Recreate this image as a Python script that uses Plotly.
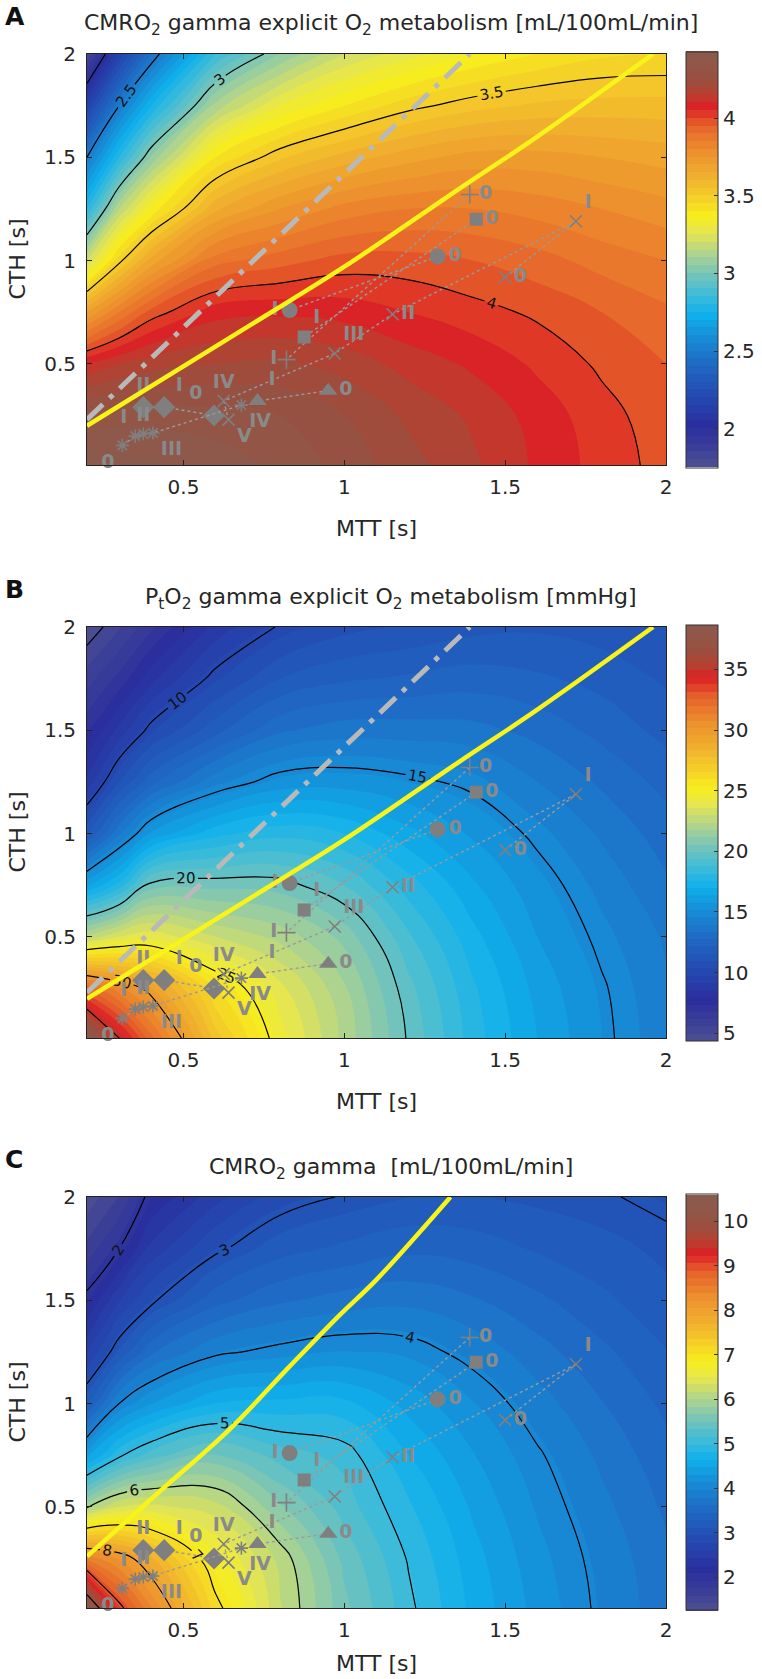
import plotly.graph_objects as go

W, H = 762, 1679

# ---------------- data ----------------
MTT = [0.2, 0.3, 0.4, 0.6, 0.8, 1.0, 1.2, 1.4, 1.6, 1.8, 2.0]
CTH = [0.01, 0.25, 0.5, 0.75, 1.0, 1.25, 1.5, 1.75, 2.0]

# one list per MTT value, CTH from bottom (0.01) to top (2.0)
CMRO2_EXPLICIT = [
    [4.43, 4.32, 4.10, 3.70, 3.20, 2.80, 2.50, 2.15, 1.80],
    [4.42, 4.33, 4.15, 3.85, 3.48, 3.15, 2.80, 2.50, 2.15],
    [4.41, 4.33, 4.18, 3.97, 3.67, 3.36, 3.06, 2.75, 2.45],
    [4.38, 4.32, 4.20, 4.08, 3.88, 3.64, 3.40, 3.12, 2.85],
    [4.34, 4.30, 4.21, 4.09, 3.93, 3.75, 3.54, 3.30, 3.05],
    [4.28, 4.25, 4.18, 4.08, 3.97, 3.82, 3.62, 3.40, 3.20],
    [4.22, 4.19, 4.13, 4.05, 3.97, 3.85, 3.68, 3.48, 3.28],
    [4.16, 4.14, 4.09, 4.02, 3.95, 3.85, 3.72, 3.53, 3.35],
    [4.09, 4.08, 4.04, 3.99, 3.92, 3.83, 3.72, 3.56, 3.40],
    [4.03, 4.02, 3.99, 3.95, 3.88, 3.80, 3.70, 3.57, 3.44],
    [3.98, 3.97, 3.95, 3.91, 3.85, 3.77, 3.68, 3.57, 3.45],
]
PTO2_EXPLICIT = [
    [38.5, 32.5, 22.5, 16.3, 11.5, 8.8, 7.3, 5.9, 4.5],
    [35.0, 31.0, 23.6, 17.8, 13.9, 11.0, 8.8, 7.0, 5.5],
    [32.2, 29.6, 24.0, 20.3, 15.9, 12.6, 10.3, 8.4, 6.7],
    [27.5, 26.0, 23.0, 20.4, 17.4, 14.4, 12.0, 10.3, 8.8],
    [24.5, 23.8, 22.2, 20.3, 18.0, 15.4, 13.3, 11.6, 10.1],
    [22.2, 21.9, 21.0, 19.4, 17.6, 15.5, 13.7, 12.1, 10.8],
    [19.9, 19.6, 18.9, 17.9, 16.6, 15.2, 13.7, 12.3, 11.1],
    [17.9, 17.7, 17.2, 16.5, 15.7, 14.8, 13.6, 12.5, 11.4],
    [16.4, 16.2, 15.8, 15.4, 14.8, 14.0, 13.2, 12.3, 11.5],
    [15.2, 15.1, 14.8, 14.4, 13.9, 13.3, 12.6, 12.0, 11.3],
    [14.2, 14.1, 13.9, 13.5, 13.1, 12.6, 12.0, 11.5, 11.0],
]
CMRO2_GAMMA = [
    [10.55, 8.5, 5.95, 4.4, 3.25, 2.6, 2.08, 1.65, 1.3],
    [9.1, 8.2, 6.35, 4.95, 4.0, 3.15, 2.6, 2.0, 1.6],
    [8.4, 7.75, 6.4, 5.25, 4.3, 3.6, 2.95, 2.5, 2.1],
    [7.1, 6.75, 6.25, 5.55, 4.65, 3.95, 3.4, 2.95, 2.55],
    [6.2, 6.12, 5.7, 5.25, 4.7, 4.07, 3.6, 3.22, 2.88],
    [5.55, 5.45, 5.25, 5.1, 4.7, 4.15, 3.7, 3.33, 3.02],
    [5.05, 4.98, 4.85, 4.65, 4.42, 4.1, 3.75, 3.42, 3.12],
    [4.6, 4.55, 4.45, 4.32, 4.15, 3.92, 3.65, 3.38, 3.13],
    [4.25, 4.2, 4.12, 4.03, 3.88, 3.7, 3.5, 3.27, 3.08],
    [3.95, 3.92, 3.85, 3.76, 3.64, 3.5, 3.33, 3.18, 3.03],
    [3.7, 3.67, 3.6, 3.52, 3.42, 3.3, 3.17, 3.08, 2.93],
]

YELLOW_AB_MTT = [0.2, 0.7, 1.0, 1.35, 1.6, 1.96]
YELLOW_AB_CTH = [0.2, 0.68, 0.97, 1.34, 1.6, 2.0]
YELLOW_C_MTT = [0.2, 0.43, 0.64, 0.83, 0.98, 1.1, 1.33]
YELLOW_C_CTH = [0.26, 0.58, 0.87, 1.18, 1.42, 1.6, 2.0]
GRAY_MTT = [0.2, 1.39]
GRAY_CTH = [0.23, 2.0]

PLUS_MTT, PLUS_CTH, PLUS_LBL = [1.39, 0.82], [1.32, 0.52], ["0", "I"]
SQUARE_MTT, SQUARE_CTH, SQUARE_LBL = [1.41, 0.875], [1.20, 0.63], ["0", "I"]
CIRCLE_MTT, CIRCLE_CTH, CIRCLE_LBL = [1.29, 0.83], [1.02, 0.76], ["0", "I"]
CROSS_MTT = [1.50, 1.72, 1.15, 0.97, 0.625, 0.64]
CROSS_CTH = [0.92, 1.19, 0.74, 0.55, 0.32, 0.23]
CROSS_LBL = ["0", "I", "II", "III", "IV", "V"]
TRI_MTT, TRI_CTH, TRI_LBL = [0.95, 0.73], [0.37, 0.32], ["0", "I"]
DIAM_MTT, DIAM_CTH, DIAM_LBL = [0.595, 0.44, 0.375], [0.25, 0.29, 0.29], ["0", "I", "II"]
STAR_MTT = [0.31, 0.35, 0.375, 0.405, 0.68]
STAR_CTH = [0.105, 0.15, 0.16, 0.165, 0.30]
STAR_LBL = ["0", "I", "II", "III", "IV"]

# ---------------- styling ----------------
CS = [
    [0.00, "#4e5190"], [0.05, "#3a3d98"], [0.10, "#2a2e9e"], [0.17, "#2449b0"],
    [0.25, "#1f6ac4"], [0.32, "#1690d8"], [0.37, "#0fb0ec"], [0.42, "#40bcd8"],
    [0.47, "#78c4b8"], [0.52, "#b0d48c"], [0.57, "#e6e650"], [0.61, "#f7ee1c"],
    [0.66, "#f5cc2a"], [0.71, "#f0ae2e"], [0.77, "#ec8e2e"], [0.83, "#e6622a"],
    [0.875, "#dc2026"], [0.905, "#b8402f"], [0.94, "#9a4f40"], [1.00, "#8c5a4c"],
]
FONT = "DejaVu Sans"
TXT = "#262626"
GRAY_MK = "#7f7f7f"
GRAY_TX = "#8a8a8a"


def rows(cols):
    return [list(r) for r in zip(*cols)]


panels = [
    dict(letter="A",
         title="CMRO<sub>2</sub> gamma explicit O<sub>2</sub> metabolism [mL/100mL/min]",
         z=CMRO2_EXPLICIT, zmin=1.75, zmax=4.43, band=0.05,
         lv=(2, 4, 0.5), cbt=[2, 2.5, 3, 3.5, 4], top=54, gray=True, mtt_gap=63,
         yx=YELLOW_AB_MTT, yy=YELLOW_AB_CTH),
    dict(letter="B",
         title="P<sub>t</sub>O<sub>2</sub> gamma explicit O<sub>2</sub> metabolism [mmHg]",
         z=PTO2_EXPLICIT, zmin=4.4, zmax=38.7, band=0.6,
         lv=(5, 35, 5), cbt=[5, 10, 15, 20, 25, 30, 35], top=627, gray=True, mtt_gap=63,
         yx=YELLOW_AB_MTT, yy=YELLOW_AB_CTH),
    dict(letter="C",
         title="CMRO<sub>2</sub> gamma  [mL/100mL/min]",
         z=CMRO2_GAMMA, zmin=1.25, zmax=10.6, band=0.17,
         lv=(2, 10, 1), cbt=[2, 3, 4, 5, 6, 7, 8, 9, 10], top=1197, gray=False, mtt_gap=55,
         yx=YELLOW_C_MTT, yy=YELLOW_C_CTH),
]

PX_L, PX_R, PH = 87, 666, 411
CB_L, CB_W = 686, 32

fig = go.Figure()
annotations = []
layout = {}

markers = [
    (PLUS_MTT, PLUS_CTH, PLUS_LBL, dict(symbol="cross-thin-open", size=13, line=dict(width=1.6, color=GRAY_MK)),
     ["middle right", "middle left"]),
    (SQUARE_MTT, SQUARE_CTH, SQUARE_LBL, dict(symbol="square", size=13),
     ["middle right", "top right"]),
    (CIRCLE_MTT, CIRCLE_CTH, CIRCLE_LBL, dict(symbol="circle", size=16),
     ["middle right", "middle left"]),
    (CROSS_MTT, CROSS_CTH, CROSS_LBL, dict(symbol="x-thin-open", size=12, line=dict(width=1.6, color=GRAY_MK)),
     ["middle right", "top right", "middle right", "top right", "top center", "bottom right"]),
    (TRI_MTT, TRI_CTH, TRI_LBL, dict(symbol="triangle-up", size=16),
     ["middle right", "top right"]),
    (DIAM_MTT, DIAM_CTH, DIAM_LBL, dict(symbol="diamond", size=17),
     ["top left", "top right", "top center"]),
    (STAR_MTT, STAR_CTH, STAR_LBL, dict(symbol="asterisk-open", size=11, line=dict(width=1.6, color=GRAY_MK)),
     ["bottom left", "top left", "top center", "bottom right", "bottom right"]),
]

for i, p in enumerate(panels):
    sfx = "" if i == 0 else str(i + 1)
    xa, ya = "x" + sfx, "y" + sfx
    top, bot = p["top"], p["top"] + PH
    z = rows(p["z"])

    fig.add_trace(go.Contour(
        x=MTT, y=CTH, z=z, xaxis=xa, yaxis=ya,
        colorscale=CS, zmin=p["zmin"], zmax=p["zmax"],
        contours=dict(coloring="fill", start=p["zmin"], end=p["zmax"], size=p["band"], showlines=False),
        line=dict(width=0, smoothing=1.3),
        colorbar=dict(x=CB_L / W, xanchor="left", y=1 - (top + PH / 2) / H, yanchor="middle",
                      len=(PH + 5) / H, thickness=CB_W, thicknessmode="pixels",
                      outlinewidth=1, outlinecolor="#333", ticks="inside", ticklen=4,
                      tickcolor="#333", tickvals=p["cbt"], xpad=0, ypad=0,
                      tickfont=dict(family=FONT, size=20, color=TXT)),
        hoverinfo="skip",
    ))
    a, b, s = p["lv"]
    fig.add_trace(go.Contour(
        x=MTT, y=CTH, z=z, xaxis=xa, yaxis=ya,
        colorscale=[[0, "black"], [1, "black"]], showscale=False,
        contours=dict(coloring="lines", start=a, end=b, size=s, showlabels=True,
                      labelfont=dict(family=FONT, size=15, color="#111")),
        line=dict(width=1.2, smoothing=1.3), hoverinfo="skip",
    ))
    if p["gray"]:
        fig.add_trace(go.Scatter(x=GRAY_MTT, y=GRAY_CTH, xaxis=xa, yaxis=ya, mode="lines",
                                 line=dict(color="#b9b9b9", width=5, dash="22px,9px,5px,9px"),
                                 showlegend=False, hoverinfo="skip"))
    for mx, my, lbl, mk, tp in markers:
        mk = dict(mk)
        mk.setdefault("color", GRAY_MK)
        fig.add_trace(go.Scatter(
            x=mx, y=my, xaxis=xa, yaxis=ya, mode="lines+markers+text",
            line=dict(color="#9a9a9a", width=1.4, dash="dot"),
            marker=mk, text=lbl, textposition=tp,
            textfont=dict(family=FONT, size=19, color=GRAY_TX, weight="bold"),
            cliponaxis=False, showlegend=False, hoverinfo="skip"))
    fig.add_trace(go.Scatter(x=p["yx"], y=p["yy"], xaxis=xa, yaxis=ya, mode="lines",
                             line=dict(color="#f8f41a", width=4.5, shape="spline"),
                             showlegend=False, hoverinfo="skip"))

    axcommon = dict(showline=True, linecolor="#222", linewidth=1, mirror="ticks", ticks="inside",
                    ticklen=5, tickcolor="#222", showgrid=False, zeroline=False,
                    tickfont=dict(family=FONT, size=20, color=TXT))
    layout["xaxis" + sfx] = dict(axcommon, domain=[PX_L / W, PX_R / W], range=[0.2, 2.0],
                                 tickvals=[0.5, 1, 1.5, 2], ticktext=["0.5", "1", "1.5", "2"],
                                 anchor=ya, ticklabelstandoff=4)
    layout["yaxis" + sfx] = dict(axcommon, domain=[1 - bot / H, 1 - top / H], range=[0.01, 2.0],
                                 tickvals=[0.5, 1, 1.5, 2], ticktext=["0.5", "1", "1.5", "2"],
                                 anchor=xa, ticklabelstandoff=6)

    annotations += [
        dict(text="<b>%s</b>" % p["letter"], x=3 / W, y=1 - (top - 38) / H, xanchor="left",
             yanchor="middle", font=dict(family=FONT, size=25, color="#111")),
        dict(text=p["title"], x=391 / W, y=1 - (top - 29) / H, xanchor="center", yanchor="middle",
             font=dict(family=FONT, size=22, color=TXT)),
        dict(text="MTT [s]", x=(PX_L + PX_R) / 2 / W, y=1 - (bot + p["mtt_gap"]) / H, xanchor="center",
             yanchor="middle", font=dict(family=FONT, size=22, color=TXT)),
        dict(text="CTH [s]", x=17 / W, y=1 - (top + PH / 2) / H, xanchor="center",
             yanchor="middle", textangle=-90, font=dict(family=FONT, size=22, color=TXT)),
    ]

for an in annotations:
    an.update(xref="paper", yref="paper", showarrow=False)

fig.update_layout(width=W, height=H, margin=dict(l=0, r=0, t=0, b=0, autoexpand=False),
                  paper_bgcolor="white", plot_bgcolor="white", showlegend=False,
                  annotations=annotations, **layout)

fig.write_html("out.html", config={"displayModeBar": False, "staticPlot": True},
               post_script="document.body.style.margin='0px';document.body.style.overflow='hidden';")
